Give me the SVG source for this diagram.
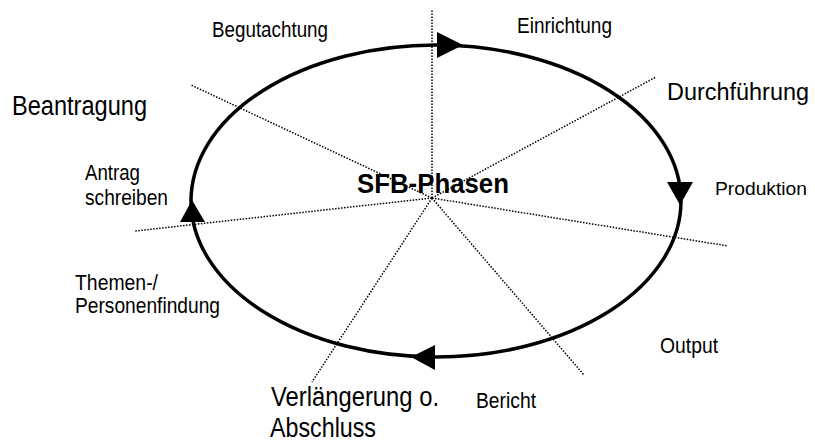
<svg xmlns="http://www.w3.org/2000/svg" width="815" height="443" viewBox="0 0 815 443">
  <style>
    .ring { fill: none; stroke: #000; stroke-width: 3.5; }
    .head { fill: #000; stroke: none; }
    .ray { stroke: #000; stroke-width: 1.5; stroke-dasharray: 1.5 1.5; fill: none; }
    .sm { font-family: "Liberation Sans", Arial, sans-serif; font-size: 22px; fill: #000; }
    .lg { font-family: "Liberation Sans", Arial, sans-serif; font-size: 27px; fill: #000; }
    .title { font-family: "Liberation Sans", Arial, sans-serif; font-size: 27px; font-weight: bold; fill: #000; }
  </style>

  <rect width="815" height="443" fill="#fff"/>

  <!-- dotted phase dividers radiating from the hub -->
  <g id="connectors">
    <line class="ray" x1="432" y1="198" x2="432" y2="9"/>
    <line class="ray" x1="432" y1="198" x2="656" y2="77"/>
    <line class="ray" x1="432" y1="198" x2="728" y2="246"/>
    <line class="ray" x1="432" y1="198" x2="584" y2="375"/>
    <line class="ray" x1="432" y1="198" x2="312" y2="382"/>
    <line class="ray" x1="432" y1="198" x2="135" y2="231"/>
    <line class="ray" x1="432" y1="198" x2="191" y2="85"/>
  </g>

  <!-- phase cycle with direction heads -->
  <g id="cycle">
    <ellipse class="ring" cx="436" cy="201" rx="245" ry="156"/>
    <polygon class="head" points="437,32 437,58 463,45"/>
    <polygon class="head" points="667,182 693,182 680,205"/>
    <polygon class="head" points="435,345 435,370 411,357"/>
    <polygon class="head" points="180,222 205,222 192,200"/>
  </g>

  <g id="hub"><text class="title" x="357" y="193" textLength="152" lengthAdjust="spacingAndGlyphs">SFB-Phasen</text></g>

  <g id="beantragung"><text class="lg" x="12" y="115" textLength="135" lengthAdjust="spacingAndGlyphs">Beantragung</text></g>
  <g id="durchfuehrung"><text class="lg" x="667" y="100" style="font-size:23.5px" textLength="142" lengthAdjust="spacingAndGlyphs">Durchführung</text></g>
  <g id="verlaengerung">
    <text class="lg" x="271" y="406" textLength="168" lengthAdjust="spacingAndGlyphs">Verlängerung o.</text>
    <text class="lg" x="270" y="437" textLength="106" lengthAdjust="spacingAndGlyphs">Abschluss</text>
  </g>

  <g id="begutachtung"><text class="sm" x="212" y="37" textLength="116" lengthAdjust="spacingAndGlyphs">Begutachtung</text></g>
  <g id="einrichtung"><text class="sm" x="517" y="33" textLength="95" lengthAdjust="spacingAndGlyphs">Einrichtung</text></g>
  <g id="produktion"><text class="sm" x="715" y="195" style="font-size:19.2px" textLength="92" lengthAdjust="spacingAndGlyphs">Produktion</text></g>
  <g id="output"><text class="sm" x="660" y="353" textLength="58" lengthAdjust="spacingAndGlyphs">Output</text></g>
  <g id="bericht"><text class="sm" x="476" y="408" textLength="60" lengthAdjust="spacingAndGlyphs">Bericht</text></g>
  <g id="themen">
    <text class="sm" x="75" y="290" textLength="83" lengthAdjust="spacingAndGlyphs">Themen-/</text>
    <text class="sm" x="75" y="313" textLength="145" lengthAdjust="spacingAndGlyphs">Personenfindung</text>
  </g>
  <g id="antrag">
    <text class="sm" x="85" y="180" textLength="55" lengthAdjust="spacingAndGlyphs">Antrag</text>
    <text class="sm" x="85" y="205" textLength="83" lengthAdjust="spacingAndGlyphs">schreiben</text>
  </g>
</svg>
